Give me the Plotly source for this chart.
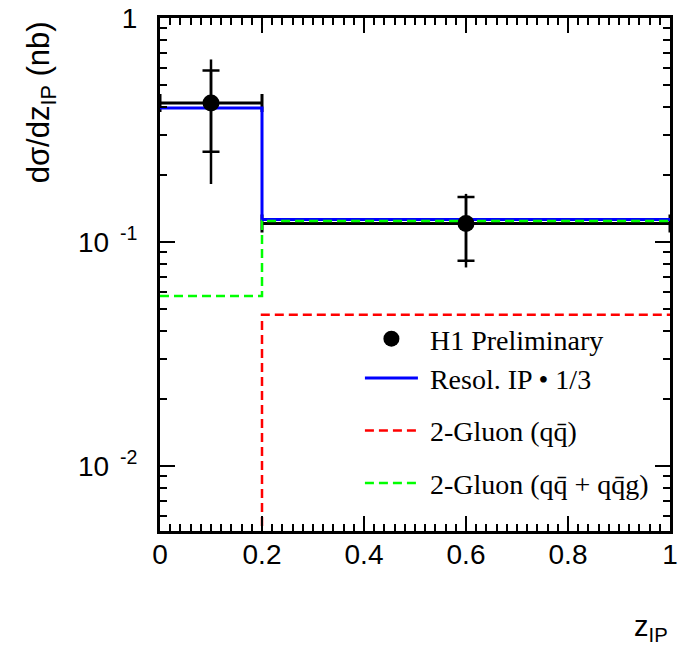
import plotly.graph_objects as go

# ---- data ----
bin_edges = [0.0, 0.2, 1.0]
data_x = [0.1, 0.6]
data_xhalf = [0.1, 0.4]
data_y = [0.417, 0.121]
stat_up = [0.166, 0.038]
stat_down = [0.164, 0.0385]
tot_up = [0.236, 0.043]
tot_down = [0.2355, 0.044]

resolved_ip = [0.397, 0.126]       # Resol. IP * 1/3
gluon_qq = [0.001, 0.0473]         # 2-Gluon (q qbar)
gluon_qqg = [0.0574, 0.124]        # 2-Gluon (q qbar + q qbar g)

ytick_vals = [0.01, 0.1, 1]
ytick_text = ["10<sup>\u00a0\u00a0-2</sup>", "10<sup>\u00a0\u00a0-1</sup>", "1"]
xtick_vals = [0, 0.2, 0.4, 0.6, 0.8, 1]
xtick_text = ["0", "0.2", "0.4", "0.6", "0.8", "1"]

def step(vals):
    return list(vals) + [vals[-1]]

fig = go.Figure()

# total error bars + horizontal bin-width bars
fig.add_trace(go.Scatter(
    x=data_x, y=data_y, mode="markers", marker=dict(size=1, color="rgba(0,0,0,0)"),
    error_x=dict(type="data", array=data_xhalf, color="black", thickness=3, width=9),
    error_y=dict(type="data", array=tot_up, arrayminus=tot_down, color="black",
                 thickness=2.5, width=0),
    showlegend=False, hoverinfo="skip"))
# statistical error caps
fig.add_trace(go.Scatter(
    x=data_x, y=data_y, mode="markers", marker=dict(size=1, color="rgba(0,0,0,0)"),
    error_y=dict(type="data", array=stat_up, arrayminus=stat_down, color="black",
                 thickness=2.5, width=8.5),
    showlegend=False, hoverinfo="skip"))

NB = "\u00a0"
fig.add_trace(go.Scatter(
    x=bin_edges, y=step(resolved_ip), mode="lines", line_shape="hv",
    line=dict(color="#0000ff", width=3), name=NB + "Resol. IP • 1/3", legendrank=2,
    legendgroup="a"))
fig.add_trace(go.Scatter(
    x=bin_edges, y=step(gluon_qq), mode="lines", line_shape="hv",
    line=dict(color="#ff0000", width=2.5, dash="9px,5px"), name=NB + "2-Gluon (qq\u0304)",
    legendrank=3, legendgroup="c"))
fig.add_trace(go.Scatter(
    x=bin_edges, y=step(gluon_qqg), mode="lines", line_shape="hv",
    line=dict(color="#00ff00", width=2.5, dash="9px,5px"),
    name=NB + "2-Gluon (qq\u0304 + qq\u0304g)", legendrank=4, legendgroup="d"))

fig.add_trace(go.Scatter(
    x=data_x, y=data_y, mode="markers", marker=dict(size=17, color="black"),
    name=NB + "H1 Preliminary", legendrank=1, legendgroup="a"))

axis_common = dict(
    showline=True, linecolor="black", linewidth=3, mirror="ticks",
    ticks="inside", ticklen=15, tickwidth=2, tickcolor="black",
    showgrid=False, zeroline=False, automargin=False, ticklabeloverflow="allow",
    tickfont=dict(family="Liberation Sans, Arial", size=28, color="black"),
)

fig.update_xaxes(
    range=[0, 1], tickvals=xtick_vals, ticktext=xtick_text,
    minor=dict(ticks="inside", ticklen=7, tickwidth=1.5, tickcolor="black", dtick=0.02, showgrid=False),
    ticklabelstandoff=-4,
    **axis_common)
fig.update_yaxes(
    type="log", range=[-2.29, 0], tickvals=ytick_vals, ticktext=ytick_text,
    minor=dict(ticks="inside", ticklen=7, tickwidth=1.5, tickcolor="black", dtick="D1", showgrid=False),
    ticklabelstandoff=14,
    **axis_common)

fig.add_annotation(
    text="dσ/dz<sub>IP</sub> (nb)", textangle=-90, xref="paper", yref="paper",
    x=-0.234, y=0.835, xanchor="center", yanchor="middle", showarrow=False,
    font=dict(family="Liberation Sans, Arial", size=31, color="black"))
fig.add_annotation(
    text="z<sub>IP</sub>", xref="paper", yref="paper",
    x=1.0, y=-0.19, xanchor="right", yanchor="middle", showarrow=False,
    font=dict(family="Liberation Sans, Arial", size=29, color="black"))

fig.update_layout(
    width=678, height=647,
    margin=dict(l=160, r=8, t=18, b=116),
    paper_bgcolor="white", plot_bgcolor="white",
    legend=dict(x=0.392, y=0.423, xanchor="left", yanchor="top",
                bgcolor="rgba(0,0,0,0)", itemwidth=53, tracegroupgap=13,
                font=dict(family="Liberation Serif, Times New Roman", size=28, color="black")),
)

fig.write_html("out.html")
